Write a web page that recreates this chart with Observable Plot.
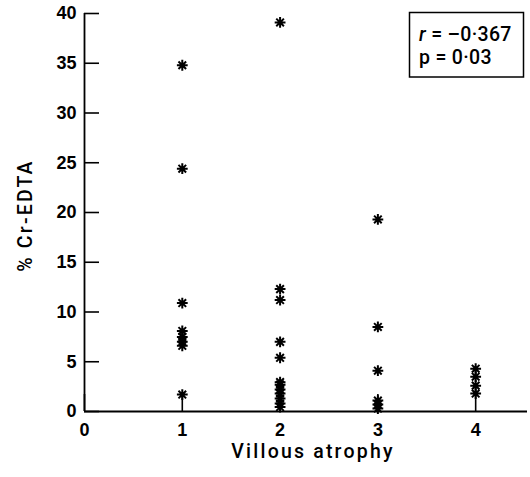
<!DOCTYPE html>
<html>
<head>
<meta charset="utf-8">
<script src="https://cdn.jsdelivr.net/npm/d3@7"></script>
<script src="https://cdn.jsdelivr.net/npm/@observablehq/plot@0.6"></script>
<style>
  html, body { margin: 0; padding: 0; background: #fff; }
  #chart { position: relative; width: 530px; height: 477px; }
  #chart svg { display: block; }
</style>
</head>
<body>
<div id="chart"></div>
<script>
// Data
const atrophyGrades = [1, 2, 3, 4];
const grade1 = [34.8, 24.4, 10.9, 8.1, 7.5, 7.0, 6.6, 1.7];
const grade2 = [39.1, 12.3, 11.2, 7.0, 5.4, 2.95, 2.7, 2.2, 1.8, 1.3, 0.8, 0.45];
const grade3 = [19.3, 8.5, 4.1, 1.1, 0.7, 0.3];
const grade4 = [4.3, 3.5, 2.6, 1.8];
const xTicks = [0, 1, 2, 3, 4];
const yTicks = [0, 5, 10, 15, 20, 25, 30, 35, 40];
const xTitle = "Villous atrophy";
const yTitle = "% Cr-EDTA";
const statLines = ["r", " = \u20130\u00b7367", "p = 0\u00b703"];

const groups = [grade1, grade2, grade3, grade4];
const points = groups.flatMap((vals, i) => vals.map(v => ({grade: atrophyGrades[i], value: v})));

// 8-armed asterisk symbol
const asterisk8 = {
  draw(context, size) {
    const r = Math.sqrt(size / Math.PI);
    for (let k = 0; k < 4; k++) {
      const a = k * Math.PI / 4;
      const dx = r * Math.cos(a), dy = r * Math.sin(a);
      context.moveTo(-dx, -dy);
      context.lineTo(dx, dy);
    }
  }
};

const font = "'Liberation Sans', Arial, Helvetica, sans-serif";
const titleFont = "Roboto, 'Liberation Sans', Arial, sans-serif";

const chart = Plot.plot({
  width: 530,
  height: 477,
  marginLeft: 84,
  marginRight: 3,
  marginTop: 13,
  marginBottom: 66,
  style: {fontFamily: font, background: "#fff", color: "#000", overflow: "visible"},
  x: {domain: [0, 4.53], ticks: xTicks},
  y: {domain: [0, 40], ticks: yTicks},
  marks: [
    // inward tick marks (no labels)
    Plot.axisY(yTicks, {tickSize: 15, dx: 15, tickFormat: () => "", stroke: "#000", strokeWidth: 1.6, strokeOpacity: 1, label: null}),
    Plot.axisX(xTicks, {tickSize: 17, dy: -17, tickFormat: () => "", stroke: "#000", strokeWidth: 1.6, strokeOpacity: 1, label: null}),
    // tick labels
    Plot.axisY(yTicks, {tickSize: 0, tickPadding: 8, fontSize: 18, fontWeight: "bold", fill: "#000", label: null}),
    Plot.axisX(xTicks, {tickSize: 0, tickPadding: 12, fontSize: 18, fontWeight: "bold", fill: "#000", label: null}),
    // axis lines
    Plot.ruleX([0], {stroke: "#000", strokeWidth: 1.8}),
    Plot.ruleY([0], {stroke: "#000", strokeWidth: 1.8}),
    // axis titles
    Plot.text([xTitle], {frameAnchor: "bottom", textAnchor: "middle", dy: 46, dx: 7, fontSize: 19.5, fontWeight: 500, fill: "#000"}),
    Plot.text([yTitle], {frameAnchor: "left", textAnchor: "middle", lineAnchor: "middle", dx: -59, dy: 3, rotate: -90, fontSize: 19.5, fontWeight: 500, fill: "#000"}),
    // data
    Plot.dot(points, {x: "grade", y: "value", symbol: asterisk8, r: 5.4, stroke: "#000", strokeWidth: 2, fill: "none"})
  ]
});

document.getElementById("chart").appendChild(chart);

const svg = d3.select(chart);
// title typeface and tracking, as in the original typesetting
svg.selectAll("text").filter(function() { return this.textContent === xTitle; })
  .attr("font-family", titleFont).attr("letter-spacing", 2.2);
svg.selectAll("text").filter(function() { return this.textContent === yTitle; })
  .attr("font-family", titleFont).attr("letter-spacing", 2.2);

// Statistics box (annotation)
const box = svg.append("g").attr("font-family", titleFont).attr("font-weight", 500).attr("fill", "#000").attr("text-anchor", "start");
box.append("rect")
  .attr("x", 409.5).attr("y", 12.5).attr("width", 114).attr("height", 64.5)
  .attr("fill", "#fff").attr("stroke", "#000").attr("stroke-width", 1.5);
const t1 = box.append("text").attr("x", 419).attr("y", 41).attr("font-size", 19.5).attr("letter-spacing", 0.3);
t1.append("tspan").attr("font-style", "italic").text(statLines[0]);
t1.append("tspan").text(statLines[1]);
box.append("text").attr("x", 419).attr("y", 64).attr("font-size", 19.5).attr("letter-spacing", 0.3).text(statLines[2]);
</script>
</body>
</html>
